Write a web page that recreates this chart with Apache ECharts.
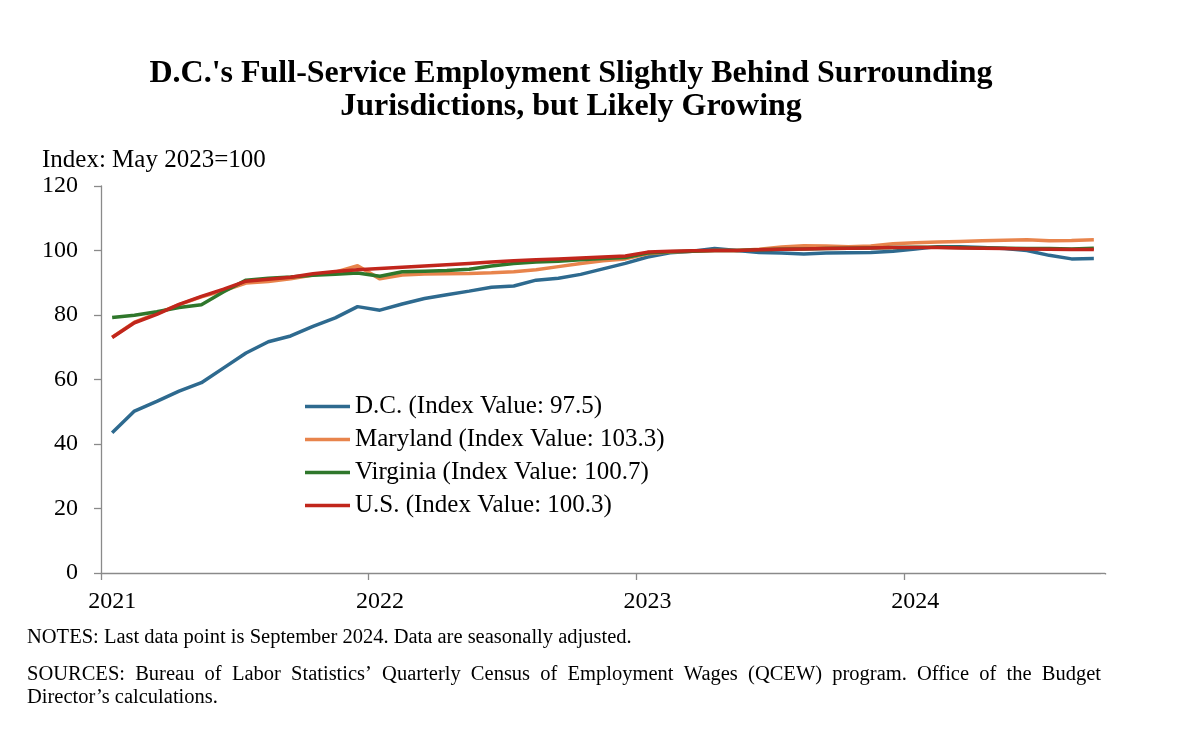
<!DOCTYPE html>
<html>
<head>
<meta charset="utf-8">
<script src="https://cdn.jsdelivr.net/npm/echarts@6/dist/echarts.min.js"></script>
<style>
html,body{margin:0;padding:0;background:#fff;}
#chart{width:1200px;height:745px;}
</style>
</head>
<body>
<div id="chart"></div>
<script>
// monthly, Jan 2021 - Sep 2024
var years = ['2021', '2022', '2023', '2024'];
var monthsInLastYear = 9;
var names = ['D.C.', 'Maryland', 'Virginia', 'U.S.'];
var colors = ['#2e6a8f', '#e8844c', '#2f772b', '#c1261c'];

var dc = [43.5, 50.2, 53.2, 56.4, 59.0, 63.6, 68.2, 71.7, 73.5, 76.5, 79.1, 82.6,
          81.5, 83.4, 85.1, 86.3, 87.4, 88.6, 89.0, 90.8, 91.4, 92.6, 94.3, 96.0,
          98.0, 99.3, 99.8, 100.6, 100.0, 99.4, 99.2, 98.9, 99.2, 99.3, 99.4, 99.8,
          100.5, 101.2, 101.2, 100.9, 100.6, 100.0, 98.5, 97.4, 97.5];
var md = [73.1, 77.8, 80.4, 83.2, 85.6, 87.6, 89.9, 90.4, 91.2, 92.4, 93.3, 95.3,
          91.2, 92.4, 92.7, 92.8, 92.9, 93.1, 93.4, 94.0, 95.0, 96.0, 96.8, 97.4,
          99.0, 99.5, 99.8, 100.0, 100.0, 100.4, 101.1, 101.5, 101.4, 101.2, 101.4, 102.1,
          102.4, 102.6, 102.8, 103.0, 103.2, 103.3, 103.0, 103.1, 103.3];
var va = [79.2, 79.9, 81.0, 82.3, 83.2, 87.2, 90.8, 91.4, 91.8, 92.3, 92.6, 93.0,
          92.0, 93.4, 93.6, 93.8, 94.2, 95.2, 96.0, 96.4, 96.7, 97.1, 97.5, 97.8,
          99.2, 99.6, 99.8, 100.0, 100.0, 100.2, 100.4, 100.5, 100.6, 100.7, 100.8, 100.9,
          101.0, 101.0, 100.9, 100.8, 100.7, 100.6, 100.6, 100.5, 100.7];
var us = [73.0, 77.6, 80.2, 83.3, 85.8, 88.0, 90.5, 91.1, 91.7, 92.8, 93.5, 94.0,
          94.4, 94.8, 95.2, 95.6, 96.0, 96.4, 96.8, 97.1, 97.4, 97.7, 98.0, 98.3,
          99.5, 99.8, 99.9, 100.0, 100.0, 100.2, 100.4, 100.5, 100.6, 100.7, 100.8, 100.9,
          100.9, 100.9, 100.8, 100.7, 100.6, 100.5, 100.4, 100.3, 100.3];

var title1 = "D.C.'s Full-Service Employment Slightly Behind Surrounding";
var title2 = "Jurisdictions, but Likely Growing";
var unitText = 'Index: May 2023=100';
var notesText = 'NOTES: Last data point is September 2024. Data are seasonally adjusted.';
var sourcesLine1 = 'SOURCES: Bureau of Labor Statistics\u2019 Quarterly Census of Employment Wages (QCEW) program. Office of the Budget';
var sourcesLine2 = 'Director\u2019s calculations.';

var serif = '"Liberation Serif", "Times New Roman", serif';

// categories: 2021-01 ... 2024-09
var months = [];
for (var y = 0; y < years.length; y++) {
    var n = (y == years.length - 1) ? monthsInLastYear : 12;
    for (var m = 1; m <= n; m++) {
        months.push(years[y] + '-' + (m < 10 ? '0' + m : m));
    }
}

var allData = [dc, md, va, us];

// 两端对齐的来源行，逐词排布
function justifyWords(text, x0, x1, y, font) {
    var ctx = document.createElement('canvas').getContext('2d');
    ctx.font = font;
    var words = text.split(' ');
    var total = 0;
    var widths = words.map(function (w) { var a = ctx.measureText(w).width; total += a; return a; });
    var gap = (x1 - x0 - total) / (words.length - 1);
    var out = [];
    var x = x0;
    for (var i = 0; i < words.length; i++) {
        out.push({
            type: 'text', left: x, top: y,
            style: { text: words[i], font: font, fill: '#000' }
        });
        x += widths[i] + gap;
    }
    return out;
}

var noteFont = '20.5px ' + serif;
var titleFont = 'bold 32px ' + serif;
var graphics = [
    { type: 'text', x: 571, y: 74, style: { text: title1, font: titleFont, fill: '#000', textAlign: 'center', textVerticalAlign: 'middle' } },
    { type: 'text', x: 571, y: 107, style: { text: title2, font: titleFont, fill: '#000', textAlign: 'center', textVerticalAlign: 'middle' } },
    { type: 'text', x: 42, y: 160, style: { text: unitText, font: '25px ' + serif, fill: '#000', textVerticalAlign: 'middle' } },
    { type: 'text', left: 27, top: 627, style: { text: notesText, font: noteFont, fill: '#000' } },
    { type: 'text', left: 27, top: 687, style: { text: sourcesLine2, font: noteFont, fill: '#000' } },
    // 遮住轴末端多出来的刻度
    { type: 'rect', shape: { x: 1101, y: 574.5, width: 8, height: 9 }, style: { fill: '#fff' }, z: 100 }
].concat(justifyWords(sourcesLine1, 27, 1101, 664, noteFont));

var chart = echarts.init(document.getElementById('chart'));

var option = {
    animation: false,
    backgroundColor: '#fff',
    grid: { left: 101, right: 95, top: 186, bottom: 172 },
    legend: {
        orient: 'vertical',
        left: 305,
        top: 394,
        icon: 'rect',
        itemWidth: 45,
        itemHeight: 3.5,
        itemGap: 8,
        padding: 0,
        selectedMode: false,
        data: names,
        textStyle: { fontFamily: serif, fontSize: 25, color: '#000', padding: [0, 0, 0, 0] },
        formatter: function (name) {
            var d = allData[names.indexOf(name)];
            return name + ' (Index Value: ' + d[d.length - 1].toFixed(1) + ')';
        }
    },
    xAxis: {
        type: 'category',
        data: months,
        boundaryGap: true,
        axisLine: { lineStyle: { color: '#8a8a8a', width: 1.3 } },
        axisTick: {
            show: true,
            length: 7,
            lineStyle: { color: '#8a8a8a', width: 1.3 },
            interval: 11
        },
        axisLabel: {
            interval: 11,
            formatter: function (v) { return v.slice(0, 4); },
            fontFamily: serif, fontSize: 24, color: '#000', margin: 17
        },
        splitLine: { show: false }
    },
    yAxis: {
        type: 'value',
        min: 0, max: 120, interval: 20,
        axisLine: { show: true, lineStyle: { color: '#8a8a8a', width: 1.3 } },
        axisTick: { show: true, length: 7, lineStyle: { color: '#8a8a8a', width: 1.3 } },
        axisLabel: { fontFamily: serif, fontSize: 24, color: '#000', margin: 23 },
        splitLine: { show: false }
    },
    series: names.map(function (nm, k) {
        return {
            name: nm,
            type: 'line',
            data: allData[k],
            symbol: 'none',
            color: colors[k],
            lineStyle: { width: 3.5, color: colors[k] },
            z: 2 + k
        };
    }),
    graphic: graphics
};

chart.setOption(option);
</script>
</body>
</html>
